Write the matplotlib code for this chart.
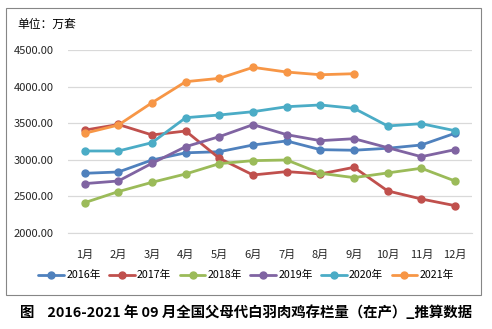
import matplotlib.pyplot as plt
from matplotlib.patches import Rectangle
import numpy as np

plt.rcParams['font.family'] = ['Noto Sans CJK SC', 'DejaVu Sans']

months = ['1月', '2月', '3月', '4月', '5月', '6月', '7月', '8月', '9月', '10月', '11月', '12月']
y2016 = [2815, 2833, 2997, 3095, 3110, 3202, 3257, 3138, 3130, 3157, 3202, 3362]
y2017 = [3405, 3482, 3339, 3393, 3020, 2792, 2838, 2806, 2897, 2574, 2464, 2373]
y2018 = [2414, 2565, 2692, 2806, 2947, 2988, 2997, 2815, 2756, 2820, 2884, 2710]
y2019 = [2674, 2710, 2952, 3179, 3316, 3480, 3343, 3261, 3288, 3165, 3042, 3138]
y2020 = [3120, 3120, 3234, 3575, 3612, 3657, 3725, 3749, 3703, 3462, 3493, 3397]
y2021 = [3362, 3475, 3780, 4067, 4113, 4263, 4199, 4162, 4176]
yticks = [2000, 2500, 3000, 3500, 4000, 4500]

series = [('2016年', y2016, '#4F81BD'), ('2017年', y2017, '#C0504D'),
          ('2018年', y2018, '#9BBB59'), ('2019年', y2019, '#8064A2'),
          ('2020年', y2020, '#4BACC6'), ('2021年', y2021, '#F79646')]

fig = plt.figure(figsize=(4.92, 3.29), dpi=100)
ax = fig.add_axes([0.138, 0.292, 0.821, 0.556])

x = np.arange(len(months))
for name, vals, col in series:
    ax.plot(x[:len(vals)], vals, color=col, lw=2.0, marker='o', markersize=5,
            label=name, solid_capstyle='round')

ax.set_xlim(-0.5, len(months) - 0.5)
ax.set_ylim(2000, 4500)
ax.set_yticks(yticks)
ax.set_yticklabels([f'{v:.2f}' for v in yticks], fontsize=8, color='#262626')
ax.set_xticks(x)
ax.set_xticklabels(months, fontsize=8, color='#262626')
ax.tick_params(length=0, pad=12)
ax.tick_params(axis='y', pad=10)
ax.grid(axis='y', color='#D9D9D9', lw=0.9)
ax.set_axisbelow(True)
for s in ['top', 'right', 'left']:
    ax.spines[s].set_visible(False)
ax.spines['bottom'].set_color('#D9D9D9')

fig.text(0.035, 0.925, '单位：万套', fontsize=8.5, va='center')

fig.legend(loc='center', bbox_to_anchor=(0.5, 0.163), ncol=6, frameon=False,
           fontsize=7.7, handlelength=2.4, handletextpad=0.2, columnspacing=0.8)

fig.patches.append(Rectangle((6 / 492, 1 - 295 / 329), 475 / 492, 287 / 329,
                             transform=fig.transFigure, fill=False,
                             edgecolor='#868686', lw=0.8))

fig.text(0.5, 1 - 313 / 329, '图    2016-2021 年 09 月全国父母代白羽肉鸡存栏量（在产）_推算数据',
         ha='center', va='center', fontsize=10.4, fontweight='bold')

fig.savefig('out.png', dpi=100)
